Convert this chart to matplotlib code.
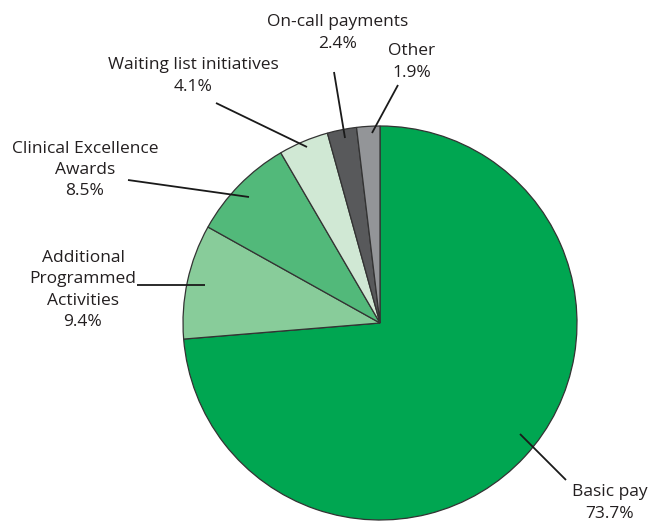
import matplotlib
matplotlib.use("Agg")
import matplotlib.pyplot as plt

# data (clockwise from 12 o'clock)
labels = [
    "Basic pay",
    "Additional\nProgrammed\nActivities",
    "Clinical Excellence\nAwards",
    "Waiting list initiatives",
    "On-call payments",
    "Other",
]
shares = [73.7, 9.4, 8.5, 4.1, 2.4, 1.9]
colors = ["#00a651", "#88cc9a", "#52b97a", "#d0e8d4", "#58595b", "#939598"]

# label layout in image pixels (y down): text centre, leader line outer/inner end
text_pos = [(610, 503), (83, 290), (85, 170), (193, 76), (338, 33), (412, 62)]
line_out = [(566, 480), (137, 285), (128, 180), (216, 103), (334, 72), (398, 85)]
line_in = [(520, 434), (205, 285), (249, 197), (307, 147), (345, 138), (372, 133)]

W, H = 649, 522
plt.rcParams["font.family"] = ["Open Sans", "DejaVu Sans"]

fig = plt.figure(figsize=(W / 100, H / 100), dpi=100)
ax = fig.add_axes([0, 0, 1, 1])

ax.pie(
    shares,
    colors=colors,
    startangle=90,
    counterclock=False,
    center=(380, H - 323),
    radius=197,
    frame=True,
    wedgeprops=dict(edgecolor="#333333", linewidth=0.9),
)
ax.set_xlim(0, W)
ax.set_ylim(0, H)
ax.axis("off")

for lab, val, tp, lo, li in zip(labels, shares, text_pos, line_out, line_in):
    ax.plot([lo[0], li[0]], [H - lo[1], H - li[1]], color="#1a1a1a", lw=1.3,
            solid_capstyle="butt")
    ax.text(tp[0], H - tp[1], f"{lab}\n{val:.1f}%", ha="center", va="center",
            fontsize=12.5, color="#231f20", linespacing=1.45)

fig.savefig("out.png", dpi=100)
